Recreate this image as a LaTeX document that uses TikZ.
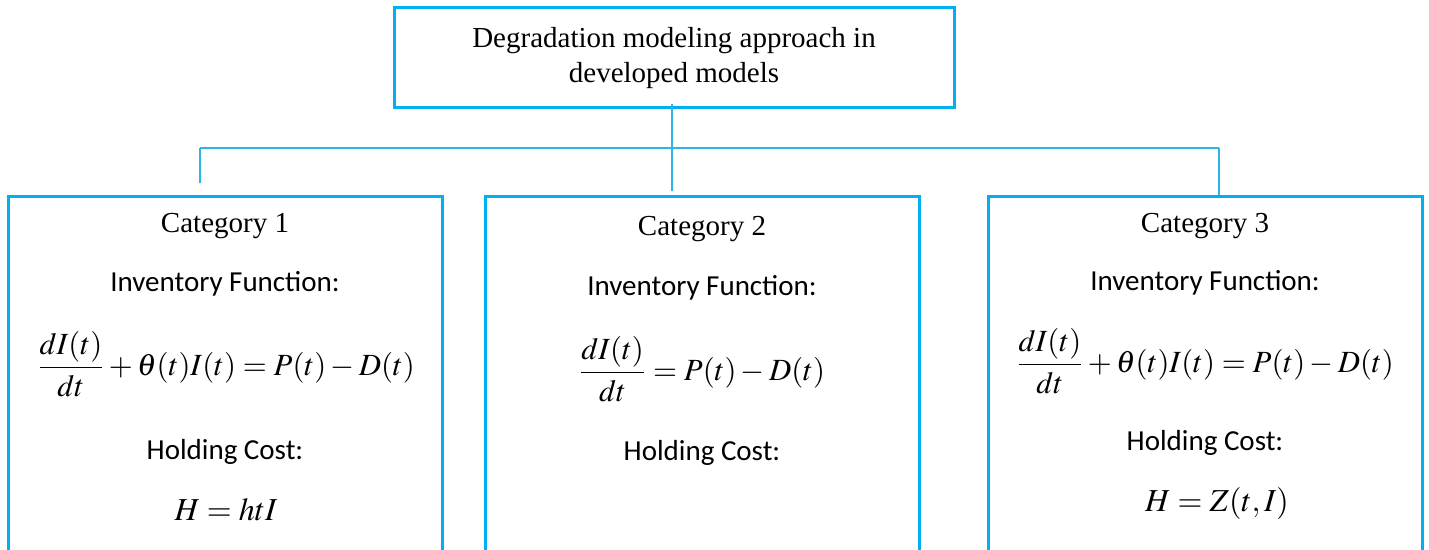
\documentclass[tikz,border=0pt]{standalone}
\usepackage{amsmath}
\usepackage{mathptmx}
\usepackage{fontspec}
\setmainfont{Liberation Serif}
\newfontfamily\calfont{Carlito}
\usepackage{tikz}
\usetikzlibrary{positioning}
\definecolor{boxblue}{HTML}{00B0F0}
\definecolor{linkblue}{HTML}{2DB5EA}

\begin{document}
\begin{tikzpicture}[x=0.5pt,y=-0.5pt,
      cat/.style={draw=boxblue,line width=1.5pt,minimum width=217pt,
                  minimum height=182pt,inner sep=0pt},
      link/.style={draw=linkblue,line width=0.7pt},
      head/.style={font=\fontsize{14.5}{17.5}\selectfont},
      label/.style={font=\calfont\fontsize{14.5}{17}\selectfont},
      eq/.style={font=\fontsize{15.4}{18}\selectfont},
      cost/.style={font=\fontsize{16}{18}\selectfont},
  ]
  \clip (0,0) rectangle (1429,550);

  %--- top box ---
  \node[draw=boxblue,line width=1.5pt,minimum width=280pt,minimum height=50pt,
        align=center,head] (top) at (674,58)
        {Degradation modeling approach in\\developed models};

  %--- category boxes (cut at the bottom) ---
  \node[cat] (c1) at (225.5,378.5) {};
  \node[cat] (c2) at (702,379) {};
  \node[cat] (c3) at (1205.5,379) {};

  %--- connectors ---
  \coordinate (busL) at (200,148);
  \coordinate (busR) at (1219,148);
  \coordinate (dropL) at (200,183);
  \coordinate (dropM) at (672,191);
  \draw[link] (busL) -- (busR);
  \draw[link] (busL) -- (dropL);
  \draw[link] (top.south -| dropM) ++(0,-5) -- (dropM);
  \draw[link] (busR) -- (busR |- c3.north);

  %--- Category 1 ---
  \node[head] (h1) at (225,226) {Category 1};
  \node[label] (f1) at (225,284) {Inventory Function:};
  \node[eq] (e1) at (226,364) {$\dfrac{dI(t)}{dt}+\theta(t)I(t)=P(t)-D(t)$};
  \node[label] (k1) at (225,452) {Holding Cost:};
  \node[cost] (z1) at (226,510) {$H=htI$};

  %--- Category 2 ---
  \node[head] (h2) at (702,229) {Category 2};
  \node[label] (f2) at (702,288) {Inventory Function:};
  \node[eq] (e2) at (702,369) {$\dfrac{dI(t)}{dt}=P(t)-D(t)$};
  \node[label] (k2) at (702,453) {Holding Cost:};

  %--- Category 3 ---
  \node[head] (h3) at (1205,226) {Category 3};
  \node[label] (f3) at (1205,283) {Inventory Function:};
  \node[eq] (e3) at (1205,361) {$\dfrac{dI(t)}{dt}+\theta(t)I(t)=P(t)-D(t)$};
  \node[label] (k3) at (1205,443) {Holding Cost:};
  \node[cost] (z3) at (1217,503) {$H=Z(t,I)$};
\end{tikzpicture}
\end{document}
